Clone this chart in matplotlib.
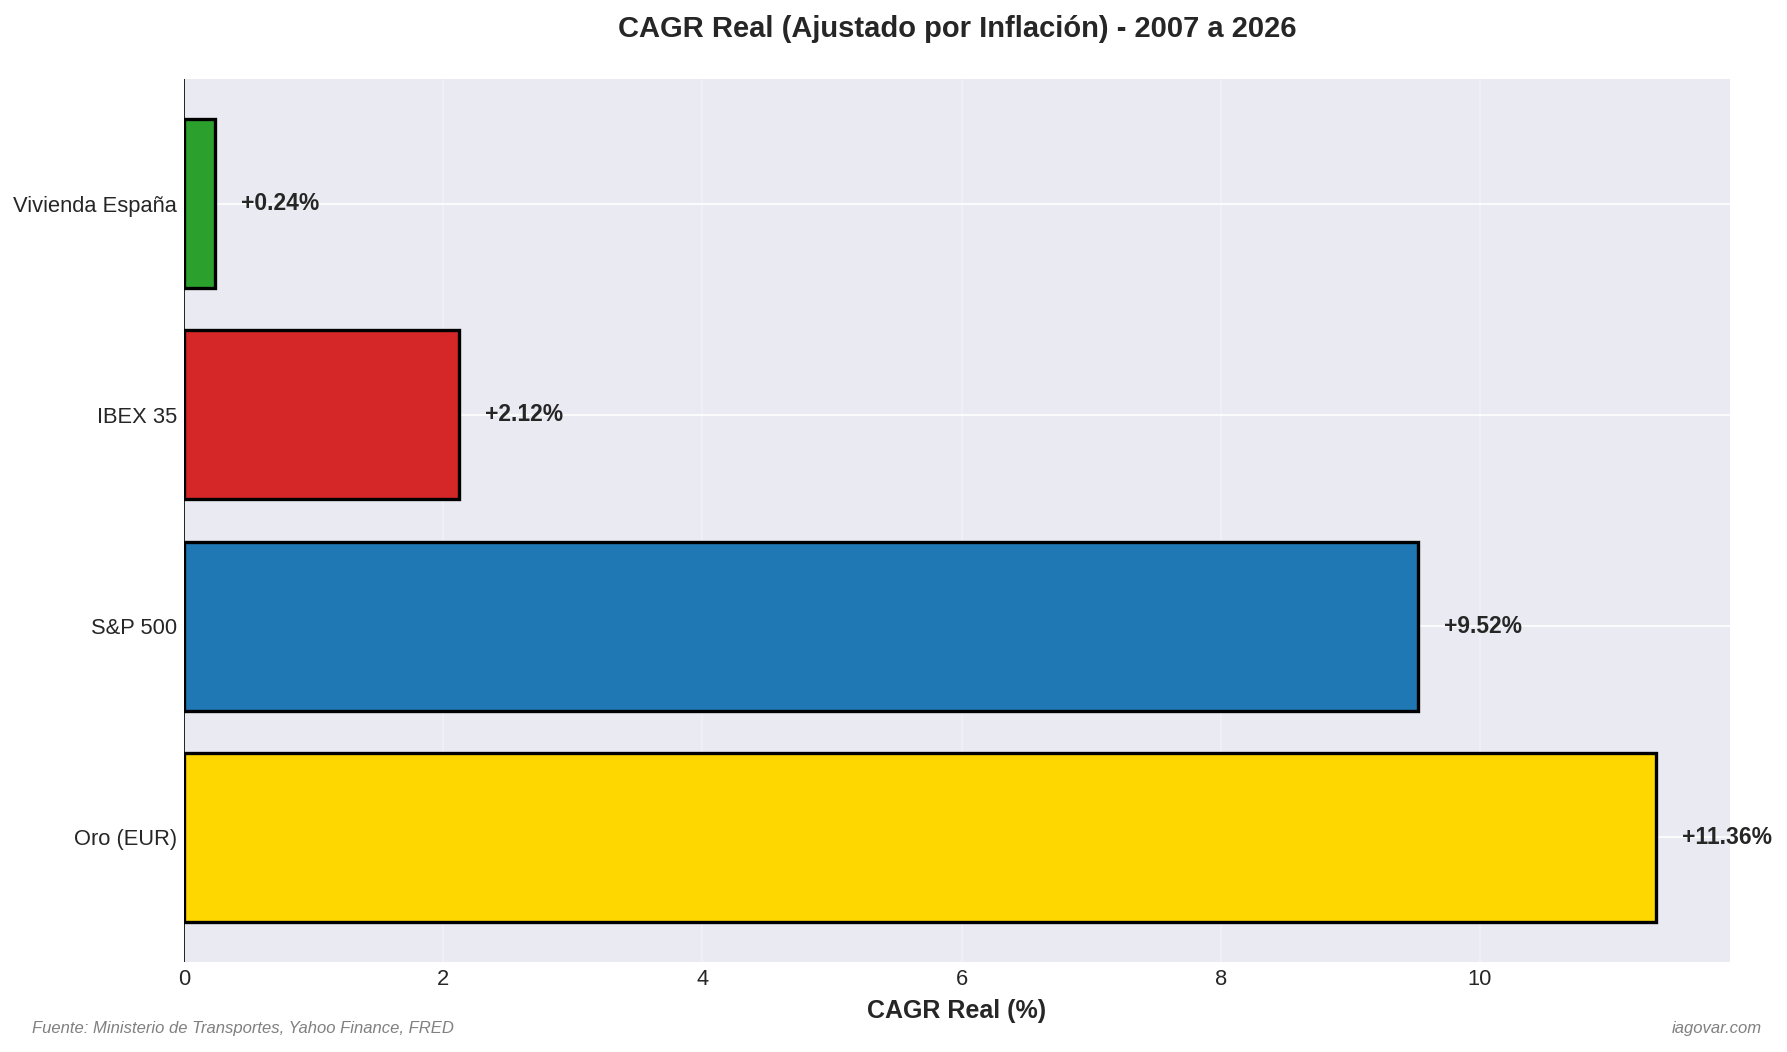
import matplotlib
matplotlib.use('Agg')
import matplotlib.pyplot as plt

# datos
activos = ['Oro (EUR)', 'S&P 500', 'IBEX 35', 'Vivienda España']
cagr_real = [11.36, 9.52, 2.12, 0.24]
colores = ['#FFD700', '#1f77b4', '#d62728', '#2ca02c']

plt.style.use('seaborn-v0_8-darkgrid')
plt.rcParams['font.family'] = ['Liberation Sans', 'DejaVu Sans']

fig, ax = plt.subplots(figsize=(1787 / 150, 1052 / 150), dpi=150)
fig.subplots_adjust(left=0.103, right=0.968, top=0.925, bottom=0.0855)

bars = ax.barh(activos, cagr_real, color=colores, edgecolor='black', linewidth=1.6)
ax.axvline(0, color='black', linewidth=0.8)

for bar, v in zip(bars, cagr_real):
    ax.text(v + 0.2, bar.get_y() + bar.get_height() / 2, f'+{v:.2f}%',
            va='center', ha='left', fontsize=11, fontweight='bold', color='#262626')

ax.set_xlim(0, max(cagr_real) * 1.05)
ax.set_xlabel('CAGR Real (%)', fontsize=12, fontweight='bold')
ax.set_title('CAGR Real (Ajustado por Inflación) - 2007 a 2026',
             fontsize=14, fontweight='bold', pad=20)
ax.tick_params(axis='both', labelsize=10.5)
ax.grid(axis='x', alpha=0.3)

fig.text(0.018, 0.018, 'Fuente: Ministerio de Transportes, Yahoo Finance, FRED',
         fontsize=8, style='italic', color='gray', ha='left')
fig.text(0.986, 0.018, 'iagovar.com', fontsize=8, style='italic',
         color='gray', ha='right')

fig.savefig('out.png', dpi=150)
